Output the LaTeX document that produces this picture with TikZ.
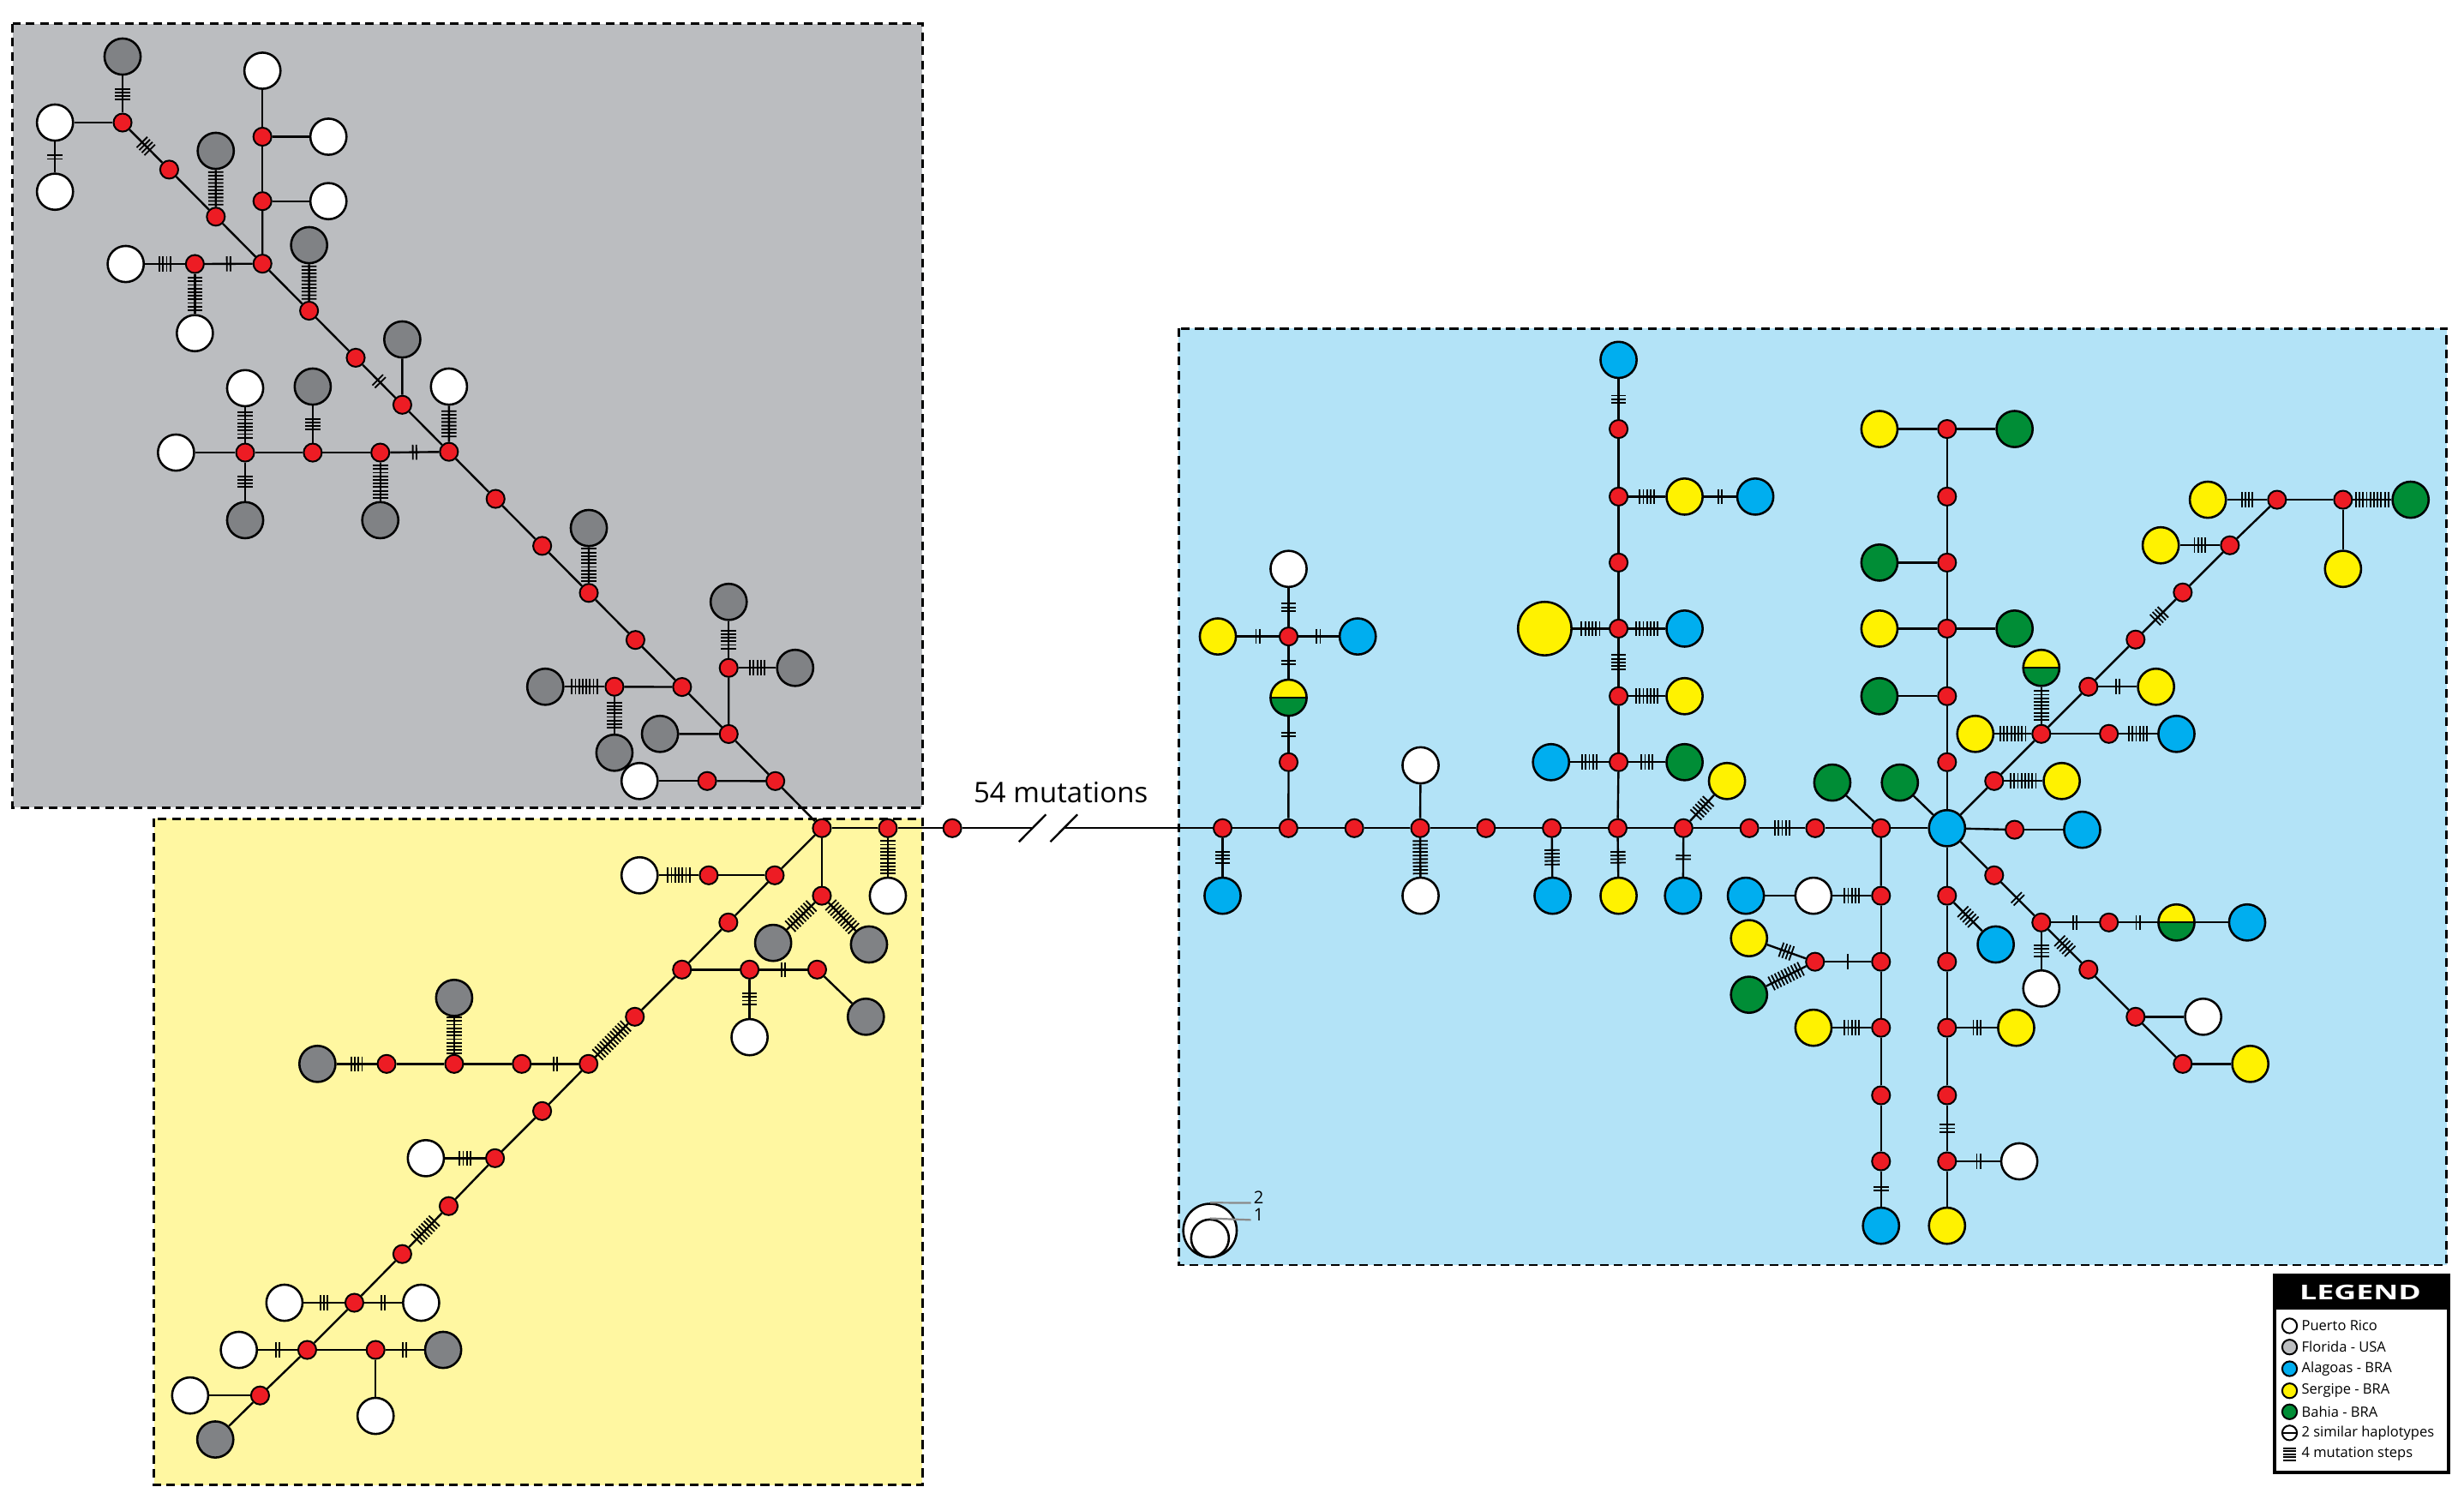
\documentclass[tikz,border=0pt]{standalone}
\usepackage{fontspec}
\usepackage{graphicx}
\setmainfont{Open Sans}
\definecolor{boxgrey}{HTML}{BBBDC0}
\definecolor{boxyellow}{HTML}{FFF7A1}
\definecolor{boxblue}{HTML}{B3E3F7}
\definecolor{hgrey}{HTML}{808285}
\definecolor{hblue}{HTML}{00AEEF}
\definecolor{hyellow}{HTML}{FFF200}
\definecolor{hgreen}{HTML}{008D36}
\definecolor{hred}{HTML}{ED1C24}
\definecolor{lgrey}{HTML}{BCBEC0}
\definecolor{szline}{HTML}{8A8A8A}
\pgfdeclarelayer{boxes}
\pgfdeclarelayer{edges}
\pgfsetlayers{boxes,edges,main}
\tikzset{
  hap/.style={circle,draw=black,line width=1.4pt,minimum size=23pt,inner sep=0pt},
  wh/.style={hap,fill=white},
  gr/.style={hap,fill=hgrey},
  bl/.style={hap,fill=hblue},
  ye/.style={hap,fill=hyellow},
  gn/.style={hap,fill=hgreen},
  hf/.style={hap,path picture={
     \fill[hyellow] (path picture bounding box.north west) rectangle (path picture bounding box.east);
     \fill[hgreen] (path picture bounding box.west) rectangle (path picture bounding box.south east);
     \draw[line width=1.3pt] (path picture bounding box.west) -- (path picture bounding box.east);}},
  md/.style={circle,draw=black,fill=hred,line width=1.1pt,minimum size=11.5pt,inner sep=0pt},
  edge/.style={line width=1.3pt},
  region/.style={draw=black,dash pattern=on 5.5pt off 3.5pt,line width=1.5pt},
  tk/.pic={\foreach \i in {1,...,#1}{\draw[line width=1pt] ({(\i-(#1+1)/2)*2.3},-4.8) -- ({(\i-(#1+1)/2)*2.3},4.8);}},
}
\begin{document}
\begin{tikzpicture}[x=1pt,y=-1pt]
\useasboundingbox (0,0) rectangle (1568,961);
% ---------- regions ----------
\begin{pgfonlayer}{boxes}
\fill[white] (0,0) rectangle (1568,961);
\fill[boxgrey] (8,15) rectangle (587,514);
\draw[region] (8,15) rectangle (587,514);
\fill[boxyellow] (98,521) rectangle (587,945);
\draw[region] (98,521) rectangle (587,945);
\fill[boxblue] (750,209) rectangle (1557,805);
\draw[region] (750,209) rectangle (1557,805);
\end{pgfonlayer}
% ---------- grey region ----------
\foreach \k in {1,...,15}{\node[md] (r\k) at ({78+29.67*(\k-1)},{78+29.93*(\k-1)}) {};}
\node[md] (J) at (523,527) {};
\node[gr] (G1) at (78,36) {};
\node[wh] (W1) at (35,78) {};
\node[wh] (W2) at (35,122) {};
\node[gr] (G2) at (137.3,96) {};
\node[md] (ra) at (167,87) {};
\node[md] (rb) at (167,128) {};
\node[wh] (W3) at (167,45) {};
\node[wh] (W4) at (209,87) {};
\node[wh] (W5) at (209,128) {};
\node[md] (rc) at (124,168) {};
\node[wh] (W6) at (80,168) {};
\node[wh] (W7) at (124,212) {};
\node[gr] (G3) at (196.7,156) {};
\node[gr] (G4) at (256,216) {};
\node[wh] (W8) at (285.7,246) {};
\node[md] (rd) at (242,288) {};
\node[md] (re) at (199,288) {};
\node[md] (rf) at (156,288) {};
\node[wh] (W10) at (112,288) {};
\node[wh] (W9) at (156,247) {};
\node[gr] (G7) at (156,331) {};
\node[gr] (G6) at (199,246) {};
\node[gr] (G5) at (242,331) {};
\node[gr] (G8) at (374.7,336) {};
\node[md] (rg) at (391,437) {};
\node[gr] (G9) at (347,437) {};
\node[gr] (G10) at (391,479) {};
\node[md] (rh) at (463.7,425) {};
\node[gr] (G11) at (463.7,383) {};
\node[gr] (G12) at (506,425) {};
\node[gr] (G13) at (420,467) {};
\node[md] (ri) at (450,497) {};
\node[wh] (W11) at (407,497) {};
% ---------- yellow region ----------
\node[md] (jr1) at (565,527) {};
\node[md] (jr2) at (606,527) {};
\node[wh] (Wj) at (565,570) {};
\node[md] (jv) at (523,570) {};
\node[gr] (Gy1) at (492,600) {};
\node[gr] (Gy2) at (553,601) {};
\foreach \nm/\xx/\yy in {y1/493/557,y2/463.5/587,y3/434/617,y4/404/647,y5/374.5/677,y6/345/707,y7/315/737,y8/285.5/767.5,y9/256/798,y10/225.5/829,y11/195.5/859,y12/165.5/888}{\node[md] (\nm) at (\xx,\yy) {};}
\node[gr] (Gend) at (137,916) {};
\node[md] (ry1) at (451,557) {};
\node[wh] (Wy1) at (407,557) {};
\node[md] (ry3a) at (477,617) {};
\node[md] (ry3b) at (520,617) {};
\node[wh] (Wy3) at (477,660) {};
\node[gr] (Gy3) at (551,647) {};
\node[md] (ry5a) at (332,677) {};
\node[md] (ry5b) at (289,677) {};
\node[md] (ry5c) at (246,677) {};
\node[gr] (Gy5) at (202,677) {};
\node[gr] (Gy5b) at (289,635) {};
\node[wh] (Wy7) at (271,737) {};
\node[wh] (Wy10a) at (181,829) {};
\node[wh] (Wy10b) at (268,829) {};
\node[wh] (Wy11) at (152,859) {};
\node[md] (ry11) at (239,859) {};
\node[gr] (Gy11) at (282,859) {};
\node[wh] (Wy11b) at (239,901) {};
\node[wh] (Wy12) at (121,888) {};
% ---------- blue region ----------
\foreach \k in {1,...,11}{\node[md] (b\k) at ({778+41.9*(\k-1)},527) {};}
\node[bl] (H) at (1239,527) {};
\node[bl] (Bb1) at (778,570) {};
\node[md] (q1) at (820,485) {};
\node[hf] (Hq) at (820,444) {};
\node[md] (q2) at (820,405) {};
\node[wh] (Wq) at (820,362) {};
\node[ye] (Yq) at (775,405) {};
\node[bl] (Bq) at (864,405) {};
\node[wh] (Wb4u) at (904,487) {};
\node[wh] (Wb4d) at (904,570) {};
\node[bl] (Bb6) at (988,570) {};
\node[ye] (Yb7) at (1030,570) {};
\foreach \k/\yy in {1/485,2/443,3/400,4/358,5/316,6/273}{\node[md] (c\k) at (1030,\yy) {};}
\node[bl] (Bc) at (1030,229) {};
\node[bl] (Bc1) at (987,485) {};
\node[gn] (Gc1) at (1072,485) {};
\node[ye] (Yc2) at (1072,443) {};
\node[ye,minimum size=34pt] (bigY) at (983,400) {};
\node[bl] (Bc3) at (1072,400) {};
\node[ye] (Yc5) at (1072,316) {};
\node[bl] (Bc5) at (1117,316) {};
\node[bl] (Bb8) at (1071,570) {};
\node[ye] (Yb8) at (1099,497) {};
\node[gn] (Gb11) at (1166,498) {};
\node[gn] (Gh) at (1209,498) {};
\foreach \k/\yy in {1/570,2/612,3/654,4/697,5/739}{\node[md] (d\k) at (1197,\yy) {};\node[md] (e\k) at (1239,\yy) {};}
\node[bl] (Bd) at (1197,780) {};
\node[wh] (Wd1) at (1154,570) {};
\node[bl] (Bd1) at (1111,570) {};
\node[md] (rd2) at (1155,612) {};
\node[ye] (Yd2) at (1113,597) {};
\node[gn] (Gd2) at (1113,633) {};
\node[ye] (Yd3) at (1154,654) {};
\node[ye] (Ye) at (1239,780) {};
\node[bl] (Be1) at (1270,601) {};
\node[ye] (Ye3) at (1283,654) {};
\node[wh] (We5) at (1285,739) {};
\foreach \k/\yy in {1/485,2/443,3/400,4/358,5/316,6/273}{\node[md] (u\k) at (1239,\yy) {};}
\node[gn] (Gu2) at (1196,443) {};
\node[ye] (Yu3) at (1196,400) {};
\node[gn] (Gu3) at (1282,400) {};
\node[gn] (Gu4) at (1196,358) {};
\node[ye] (Yu6) at (1196,273) {};
\node[gn] (Gu6) at (1282,273) {};
\node[md] (hr) at (1282,528) {};
\node[bl] (Bhr) at (1325,528) {};
\foreach \k/\xx/\yy in {1/1269/497,2/1299/467,3/1329/437,4/1359/407,5/1389/377,6/1419/347,7/1449/318}{\node[md] (p\k) at (\xx,\yy) {};}
\node[ye] (Yp1) at (1312,497) {};
\node[ye] (Yp2) at (1257,467) {};
\node[hf] (Hp2) at (1299,425) {};
\node[md] (rp2) at (1342,467) {};
\node[bl] (Bp2) at (1385,467) {};
\node[ye] (Yp3) at (1372,437) {};
\node[ye] (Yp6) at (1375,347) {};
\node[ye] (Yp7) at (1405,318) {};
\node[md] (rp7) at (1491,318) {};
\node[gn] (Gp7) at (1534,318) {};
\node[ye] (Yp7b) at (1491,362) {};
\foreach \k/\xx/\yy in {1/1269/557,2/1299/587,3/1329/617,4/1359/647,5/1389/677}{\node[md] (s\k) at (\xx,\yy) {};}
\node[md] (rs2) at (1342,587) {};
\node[hf] (Hs2) at (1385,587) {};
\node[bl] (Bs2) at (1430,587) {};
\node[wh] (Ws2) at (1299,629) {};
\node[wh] (Ws4) at (1402,647) {};
\node[ye] (Ys5) at (1432,677) {};
% break and label
\coordinate (brk1) at (657,527);
\coordinate (brk2) at (677,527);
\node[font=\fontsize{18}{18}\selectfont] (mut) at (675,504) {54 mutations};
% ---------- edges ----------
\begin{pgfonlayer}{edges}
\foreach \a/\b/\n in {
 G1/r1/4, W1/r1/0, W1/W2/2, r1/r2/4, r2/r3/0, G2/r3/10, r3/r4/0, r4/rb/0, rb/ra/0, ra/W3/0, ra/W4/0, rb/W5/0,
 r4/rc/2, rc/W6/4, rc/W7/10, r4/r5/0, G3/r5/10, r5/r6/0, r6/r7/2, G4/r7/0, r7/r8/0, W8/r8/8, r8/rd/2, rd/G5/10,
 rd/re/0, re/G6/4, re/rf/0, rf/W9/8, rf/G7/4, rf/W10/0, r8/r9/0, r9/r10/0, r10/r11/0, G8/r11/10, r11/r12/0,
 r12/r13/0, r13/rg/0, rg/G9/8, rg/G10/8, r13/r14/0, r14/rh/0, rh/G11/6, rh/G12/5, r14/G13/0, r14/r15/0,
 r15/ri/0, ri/W11/0, r15/J/0,
 J/jr1/0, jr1/jr2/0, jr1/Wj/10, J/jv/0, jv/Gy1/9, jv/Gy2/10, J/y1/0, y1/ry1/0, ry1/Wy1/7, y1/y2/0, y2/y3/0,
 y3/ry3a/0, ry3a/ry3b/2, ry3a/Wy3/4, ry3b/Gy3/0, y3/y4/0, y4/y5/12, y5/ry5a/2, ry5a/ry5b/0, ry5b/ry5c/0,
 ry5c/Gy5/4, ry5b/Gy5b/11, y5/y6/0, y6/y7/0, y7/Wy7/4, y7/y8/0, y8/y9/8, y9/y10/0, y10/Wy10a/3, y10/Wy10b/2,
 y10/y11/0, y11/Wy11/2, y11/ry11/0, ry11/Gy11/2, ry11/Wy11b/0, y11/y12/0, y12/Wy12/0, y12/Gend/0,
 b1/b2/0, b2/b3/0, b3/b4/0, b4/b5/0, b5/b6/0, b6/b7/0, b7/b8/0, b8/b9/0, b9/b10/5, b10/b11/0, b11/H/0,
 b1/Bb1/4, b2/q1/0, q1/Hq/2, Hq/q2/2, q2/Wq/3, q2/Yq/2, q2/Bq/2, b4/Wb4u/0, b4/Wb4d/10, b6/Bb6/5, b7/Yb7/4,
 b7/c1/0, c1/Bc1/5, c1/Gc1/4, c1/c2/0, c2/Yc2/7, c2/c3/5, c3/bigY/6, c3/Bc3/7, c3/c4/0, c4/c5/0, c5/Yc5/5,
 Yc5/Bc5/2, c5/c6/0, c6/Bc/3, b8/Bb8/2, b8/Yb8/6, b11/Gb11/0, H/Gh/0,
 b11/d1/0, d1/d2/0, d2/d3/0, d3/d4/0, d4/d5/0, d5/Bd/2, d1/Wd1/5, Wd1/Bd1/0, d2/rd2/1, rd2/Yd2/4, rd2/Gd2/10,
 d3/Yd3/5, H/e1/0, e1/e2/0, e2/e3/0, e3/e4/0, e4/e5/3, e5/Ye/0, e1/Be1/5, e3/Ye3/3, e5/We5/2,
 H/u1/0, u1/u2/0, u2/u3/0, u3/u4/0, u4/u5/0, u5/u6/0, u2/Gu2/0, u3/Yu3/0, u3/Gu3/0, u4/Gu4/0, u6/Yu6/0, u6/Gu6/0,
 H/hr/0, hr/Bhr/0, H/p1/0, p1/p2/0, p2/p3/0, p3/p4/0, p4/p5/4, p5/p6/0, p6/p7/0, p1/Yp1/8, p2/Yp2/8, p2/Hp2/9,
 p2/rp2/0, rp2/Bp2/6, p3/Yp3/2, p6/Yp6/4, p7/Yp7/4, p7/rp7/0, rp7/Gp7/10, rp7/Yp7b/0,
 H/s1/0, s1/s2/2, s2/s3/5, s3/s4/0, s4/s5/0, s2/rs2/2, rs2/Hs2/2, Hs2/Bs2/0, s2/Ws2/4, s4/Ws4/0, s5/Ys5/0}{
  \ifnum\n>0 \draw[edge] (\a) -- pic[pos=0.5,sloped]{tk=\n} (\b);\else \draw[edge] (\a) -- (\b);\fi
}
\draw[edge] (jr2) -- (brk1);
\draw[edge] (brk2) -- (b1);
\draw[edge] ([shift={(-8.6,8.7)}]brk1) -- ([shift={(8.6,-8.7)}]brk1);
\draw[edge] ([shift={(-8.6,8.7)}]brk2) -- ([shift={(8.6,-8.7)}]brk2);
\end{pgfonlayer}
% ---------- size legend ----------
\node[wh,minimum size=34pt] (sz2) at (770,783) {};
\node[wh,minimum size=24pt] (sz1) at (770,788) {};
\node[font=\fontsize{11}{11}\selectfont,inner sep=0pt] (t2) at (801,762) {2};
\node[font=\fontsize{11}{11}\selectfont,inner sep=0pt] (t1) at (801,773) {1};
\draw[szline,line width=1.2pt] (sz2.north) -- (796,765.5);
\draw[szline,line width=1.2pt] (sz1.north) -- (796,776.3);
% ---------- legend ----------
\node[draw=black,line width=1.5pt,fill=white,minimum width=110pt,minimum height=125pt,anchor=north west,inner sep=0pt] (leg) at (1447,811) {};
\fill[black] (1447,811) rectangle (1557,833.5);
\draw[line width=1.5pt] (leg.north west) rectangle (leg.south east);
\node[text=white,font=\bfseries\fontsize{13}{13}\selectfont,inner sep=0pt] (legt) at (1502,822.5) {\scalebox{1.5}[1]{LEGEND}};
\foreach \yy/\col/\txt [count=\i] in {843.7/white/Puerto Rico, 857.2/lgrey/Florida - USA, 871/hblue/Alagoas - BRA, 885/hyellow/Sergipe - BRA, 898.4/hgreen/Bahia - BRA}{
  \node[circle,draw=black,line width=1.1pt,fill=\col,minimum size=9.4pt,inner sep=0pt] (lc\i) at (1457,\yy) {};
  \node[anchor=west,inner sep=0pt,font=\fontsize{9}{9}\selectfont] (lt\i) at (1464.5,\yy) {\txt};
}
\node[circle,draw=black,line width=1.1pt,fill=white,minimum size=9.4pt,inner sep=0pt] (lc6) at (1457,911.8) {};
\draw[line width=1.1pt] (lc6.west) -- (lc6.east);
\node[anchor=west,inner sep=0pt,font=\fontsize{9}{9}\selectfont] (lt6) at (1464.5,911.8) {2 similar haplotypes};
\coordinate (lc7) at (1457,925.4);
\foreach \j in {0,...,4}{\draw[line width=1pt] ([shift={(-4.3,-3.8+1.9*\j)}]lc7) -- ([shift={(4.3,-3.8+1.9*\j)}]lc7);}
\node[anchor=west,inner sep=0pt,font=\fontsize{9}{9}\selectfont] (lt7) at (1464.5,925.4) {4 mutation steps};
\end{tikzpicture}
\end{document}
